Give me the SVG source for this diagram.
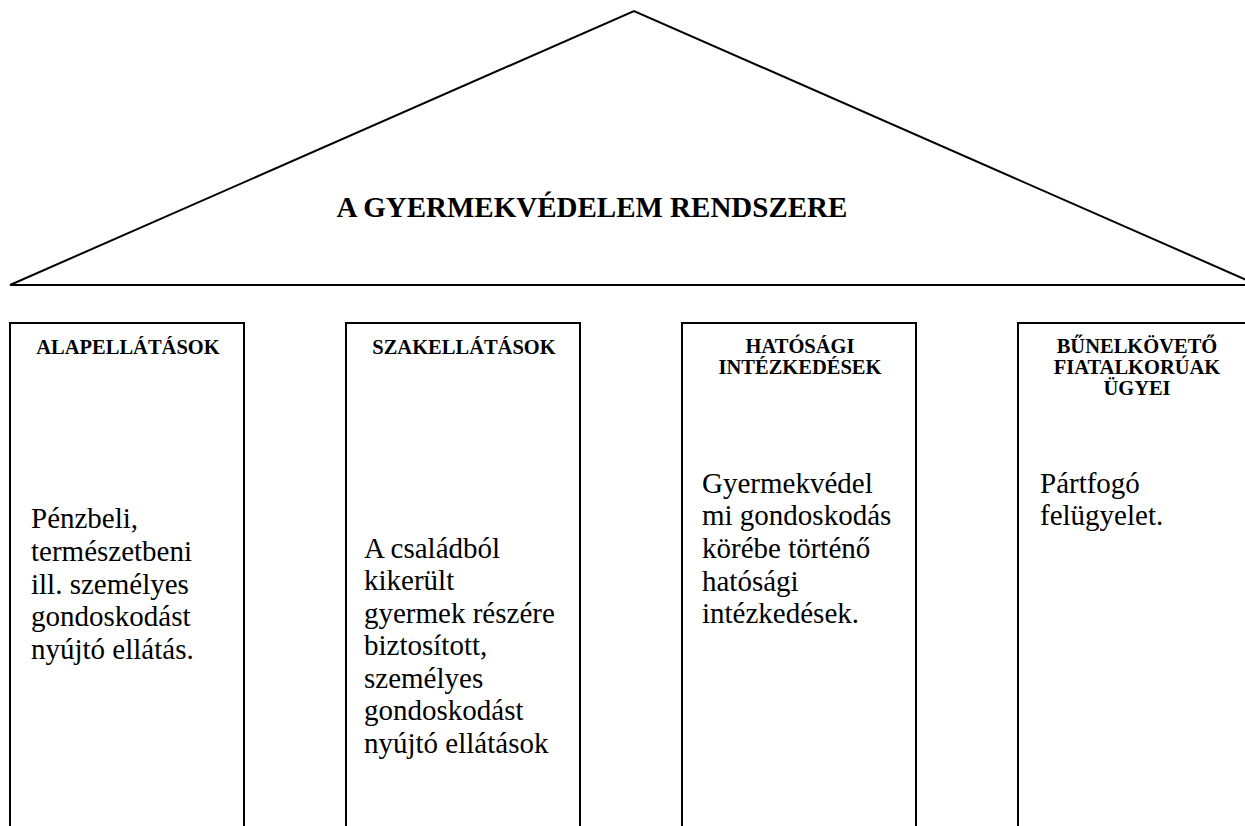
<svg xmlns="http://www.w3.org/2000/svg" width="1245" height="826" viewBox="0 0 1245 826">
<style>
.ln{fill:none;stroke:#000;stroke-width:2}
.t{font-family:"Liberation Serif","Times New Roman",serif;fill:#000}
.title{font-size:29px;font-weight:bold;text-anchor:middle}
.hd{font-size:20.5px;font-weight:bold;text-anchor:middle}
.bd{font-size:29px}
</style>
<rect width="1245" height="826" fill="#fff"/>
<g id="roof">
<polygon class="ln" points="10,285 634,11 1258,285"/>
<text class="t title" x="592" y="217">A GYERMEKVÉDELEM RENDSZERE</text>
</g>
<g id="pillar1">
<rect class="ln" x="10" y="323" width="234" height="520"/>
<text class="t hd" x="128" y="354">ALAPELLÁTÁSOK</text>
<text class="t bd"><tspan x="31" y="528">Pénzbeli,</tspan><tspan x="31" y="561">természetbeni</tspan><tspan x="31" y="594">ill. személyes</tspan><tspan x="31" y="626">gondoskodást</tspan><tspan x="31" y="659">nyújtó ellátás.</tspan></text>
</g>
<g id="pillar2">
<rect class="ln" x="346" y="323" width="234" height="520"/>
<text class="t hd" x="464" y="354">SZAKELLÁTÁSOK</text>
<text class="t bd"><tspan x="364" y="558">A családból</tspan><tspan x="364" y="590">kikerült</tspan><tspan x="364" y="623">gyermek részére</tspan><tspan x="364" y="655">biztosított,</tspan><tspan x="364" y="688">személyes</tspan><tspan x="364" y="720">gondoskodást</tspan><tspan x="364" y="753">nyújtó ellátások</tspan></text>
</g>
<g id="pillar3">
<rect class="ln" x="682" y="323" width="234" height="520"/>
<text class="t hd"><tspan x="800" y="353">HATÓSÁGI</tspan><tspan x="800" y="374">INTÉZKEDÉSEK</tspan></text>
<text class="t bd"><tspan x="702" y="493">Gyermekvédel</tspan><tspan x="702" y="525">mi gondoskodás</tspan><tspan x="702" y="558">körébe történő</tspan><tspan x="702" y="591">hatósági</tspan><tspan x="702" y="623">intézkedések.</tspan></text>
</g>
<g id="pillar4">
<rect class="ln" x="1018" y="323" width="235" height="520"/>
<text class="t hd"><tspan x="1137" y="353">BŰNELKÖVETŐ</tspan><tspan x="1137" y="374">FIATALKORÚAK</tspan><tspan x="1137" y="395">ÜGYEI</tspan></text>
<text class="t bd"><tspan x="1040" y="493">Pártfogó</tspan><tspan x="1040" y="525">felügyelet.</tspan></text>
</g>
<g id="connectors"/>
</svg>
